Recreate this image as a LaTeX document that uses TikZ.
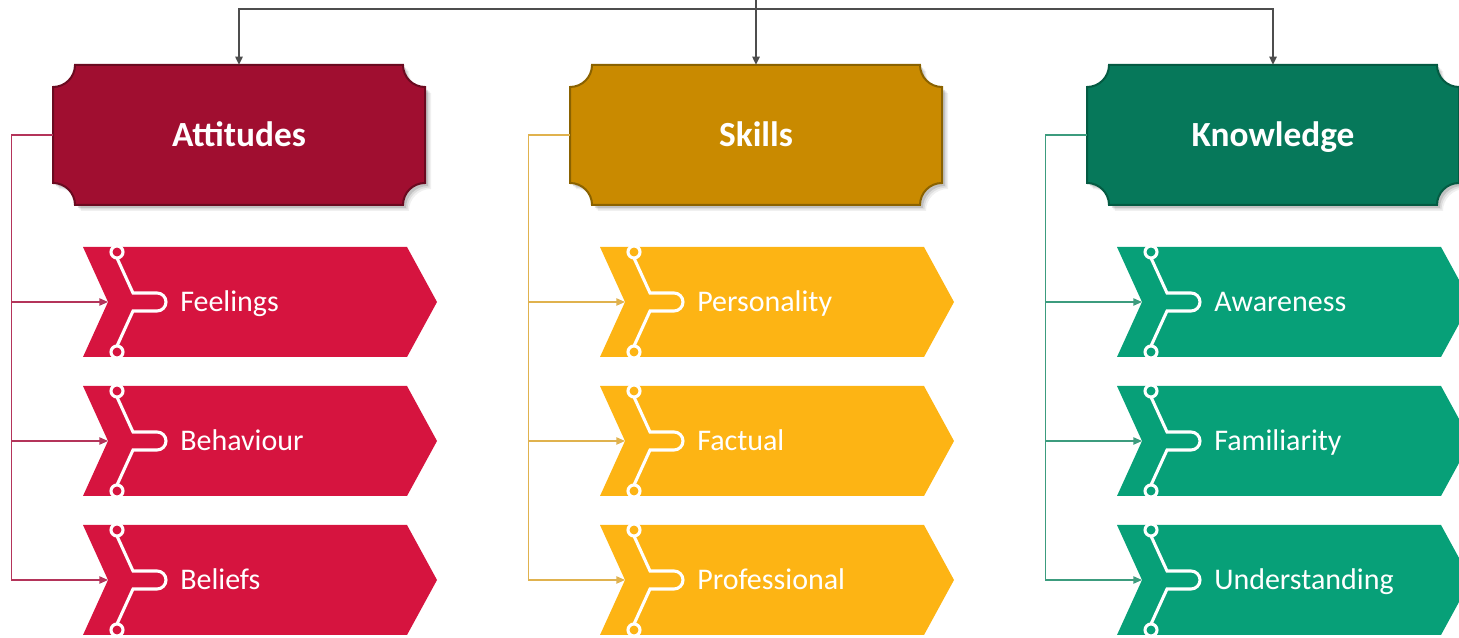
\documentclass[tikz,border=0pt]{standalone}
\usepackage{fontspec}
\setmainfont{Carlito}
\usetikzlibrary{arrows.meta}
\definecolor{attfill}{HTML}{A00E30}
\definecolor{attborder}{HTML}{6A0A20}
\definecolor{attitem}{HTML}{D6143F}
\definecolor{attline}{HTML}{B4345A}
\definecolor{skfill}{HTML}{C98A00}
\definecolor{skborder}{HTML}{8A6200}
\definecolor{skitem}{HTML}{FDB414}
\definecolor{skline}{HTML}{E0B24E}
\definecolor{knfill}{HTML}{06785A}
\definecolor{knborder}{HTML}{045A42}
\definecolor{knitem}{HTML}{07A078}
\definecolor{knline}{HTML}{3C9C7E}
\definecolor{topgray}{HTML}{4D4D4D}
\tikzset{
  hdrtext/.style={text=white, font=\fontsize{26.5}{30}\selectfont\bfseries,
    minimum width=279pt, minimum height=105pt, inner sep=0pt,
    text height=17pt, text depth=0pt},
  itemtext/.style={text=white, font=\fontsize{22.5}{26}\selectfont, anchor=west,
    inner sep=0pt, text height=14.5pt, text depth=0pt},
  topconn/.style={draw=topgray, line width=1.1pt},
  topar/.style={topconn, -{Triangle[length=6pt,width=5.5pt]}},
  branch/.style={line width=1pt, -{Triangle[length=6.5pt,width=5.5pt]}},
  deco/.style={draw=white, line width=2.3pt},
}
% header box: name, cx, fill, border, text
\newcommand{\hdrbox}[5]{%
  \foreach \o/\op in {6/0.06,4.5/0.08,3/0.12}{%
    \fill[black, opacity=\op, shift={(\o,-\o)}]
      ({#2-186},551) arc (-90:0:22) -- ({#2+164},573) arc (180:270:22)
      -- ({#2+186},455) arc (90:180:22) -- ({#2-164},433) arc (0:90:22) -- cycle;
  }
  \filldraw[fill=#3, draw=#4, line width=1.5pt]
      ({#2-186},551) arc (-90:0:22) -- ({#2+164},573) arc (180:270:22)
      -- ({#2+186},455) arc (90:180:22) -- ({#2-164},433) arc (0:90:22) -- cycle;
  \node[hdrtext] (#1) at (#2,503) {#5};
}
% chevron item: name, nx, ny, colour, text
\newcommand{\chevitem}[5]{%
  \fill[#4] ({#2-25},{#3+55}) -- ({#2+299},{#3+55}) -- ({#2+329},#3)
     -- ({#2+299},{#3-55}) -- ({#2-25},{#3-55}) -- (#2,#3) -- cycle;
  \draw[deco] ({#2+9},{#3+44}) -- ({#2+25},{#3+9}) -- ({#2+49},{#3+9})
     arc (90:-90:9) -- ({#2+25},{#3-9}) -- ({#2+9},{#3-44});
  \filldraw[deco, fill=#4] ({#2+9},{#3+50}) circle (6);
  \filldraw[deco, fill=#4] ({#2+9},{#3-50}) circle (6);
  \coordinate (#1-in) at (#2,#3);
  \node[itemtext] (#1) at ({#2+72},#3) {#5};
}
\begin{document}
\begin{tikzpicture}[x=0.75pt,y=0.75pt]
\useasboundingbox (0,0) rectangle (1459,638);

% header boxes
\hdrbox{att}{239}{attfill}{attborder}{Attitudes}
\hdrbox{sk}{756}{skfill}{skborder}{Skills}
\hdrbox{kn}{1273}{knfill}{knborder}{Knowledge}

% items
\chevitem{feel}{108}{336}{attitem}{Feelings}
\chevitem{beh}{108}{197}{attitem}{Behaviour}
\chevitem{bel}{108}{58}{attitem}{Beliefs}
\chevitem{pers}{625}{336}{skitem}{Personality}
\chevitem{fact}{625}{197}{skitem}{Factual}
\chevitem{prof}{625}{58}{skitem}{Professional}
\chevitem{aw}{1142}{336}{knitem}{Awareness}
\chevitem{fam}{1142}{197}{knitem}{Familiarity}
\chevitem{und}{1142}{58}{knitem}{Understanding}

% top connectors
\coordinate (src) at (756,638);
\coordinate (bus) at (756,629);
\draw[topconn] (src) -- (bus);
\draw[topar] (bus) -| (att.north);
\draw[topar] (bus) -- (sk.north);
\draw[topar] (bus) -| (kn.north);

% branch connectors
\foreach \t in {feel,beh,bel}
  \draw[branch, attline] (att.west) -- ++(-41,0) |- (\t-in);
\foreach \t in {pers,fact,prof}
  \draw[branch, skline] (sk.west) -- ++(-41,0) |- (\t-in);
\foreach \t in {aw,fam,und}
  \draw[branch, knline] (kn.west) -- ++(-41,0) |- (\t-in);
\end{tikzpicture}
\end{document}
